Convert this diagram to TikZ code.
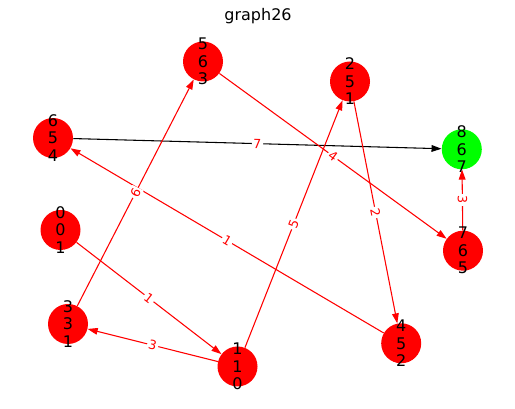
\documentclass[tikz,border=0pt]{standalone}
\usepackage{fontspec}
\setmainfont{DejaVu Sans}
\usetikzlibrary{arrows.meta}
\definecolor{nred}{HTML}{FF0000}
\definecolor{ngreen}{HTML}{00FF00}
\begin{document}
\begin{tikzpicture}[x=0.75pt,y=-0.75pt,
  vtx/.style={circle,inner sep=0pt,minimum size=30pt,draw=none,fill=nred},
  vtxtext/.style={align=center,font=\fontsize{12}{13.1}\selectfont,inner sep=0pt,text=black},
  edge/.style={-{Triangle[length=7.5pt,width=5pt]},line width=0.8pt,draw=nred},
  elab/.style={fill=white,inner sep=1.2pt,text=nred,font=\fontsize{9.5}{10}\selectfont,sloped},
  elabv/.style={fill=white,inner sep=1.2pt,text=nred,font=\fontsize{9.5}{10}\selectfont,rotate=-90}
]
\useasboundingbox (0,0) rectangle (515,409);
\node[font=\fontsize{12}{14}\selectfont] (title) at (258,16) {graph26};

\node[vtx] (n654) at (53,138) {};
\node[vtx] (n001) at (60.5,230) {};
\node[vtx] (n331) at (68,324) {};
\node[vtx] (n110) at (237.5,366.5) {};
\node[vtx] (n563) at (203,61.5) {};
\node[vtx] (n251) at (350,81.5) {};
\node[vtx,fill=ngreen] (n867) at (461.8,149.3) {};
\node[vtx] (n765) at (463,250.7) {};
\node[vtx] (n452) at (401.2,343.3) {};

\draw[edge,draw=black] (n654) -- (n867);
\draw[edge] (n001) -- (n110);
\draw[edge] (n331) -- (n563);
\draw[edge] (n110) -- (n331);
\draw[edge] (n110) -- (n251);
\draw[edge] (n563) -- (n765);
\draw[edge] (n251) -- (n452);
\draw[edge] (n452) -- (n654);
\draw[edge] (n765) -- (n867);

\path (n654) -- node[elab] {7} (n867);
\path (n001) -- node[elab] {1} (n110);
\path (n331) -- node[elab] {6} (n563);
\path (n110) -- node[elab] {3} (n331);
\path (n110) -- node[elab] {5} (n251);
\path (n563) -- node[elab] {4} (n765);
\path (n251) -- node[elab] {2} (n452);
\path (n452) -- node[elab] {1} (n654);
\path (n765) -- node[elabv] {3} (n867);

\node[vtxtext] at (n654) {6\\5\\4};
\node[vtxtext] at (n001) {0\\0\\1};
\node[vtxtext] at (n331) {3\\3\\1};
\node[vtxtext] at (n110) {1\\1\\0};
\node[vtxtext] at (n563) {5\\6\\3};
\node[vtxtext] at (n251) {2\\5\\1};
\node[vtxtext] at (n867) {8\\6\\7};
\node[vtxtext] at (n765) {7\\6\\5};
\node[vtxtext] at (n452) {4\\5\\2};
\end{tikzpicture}
\end{document}
